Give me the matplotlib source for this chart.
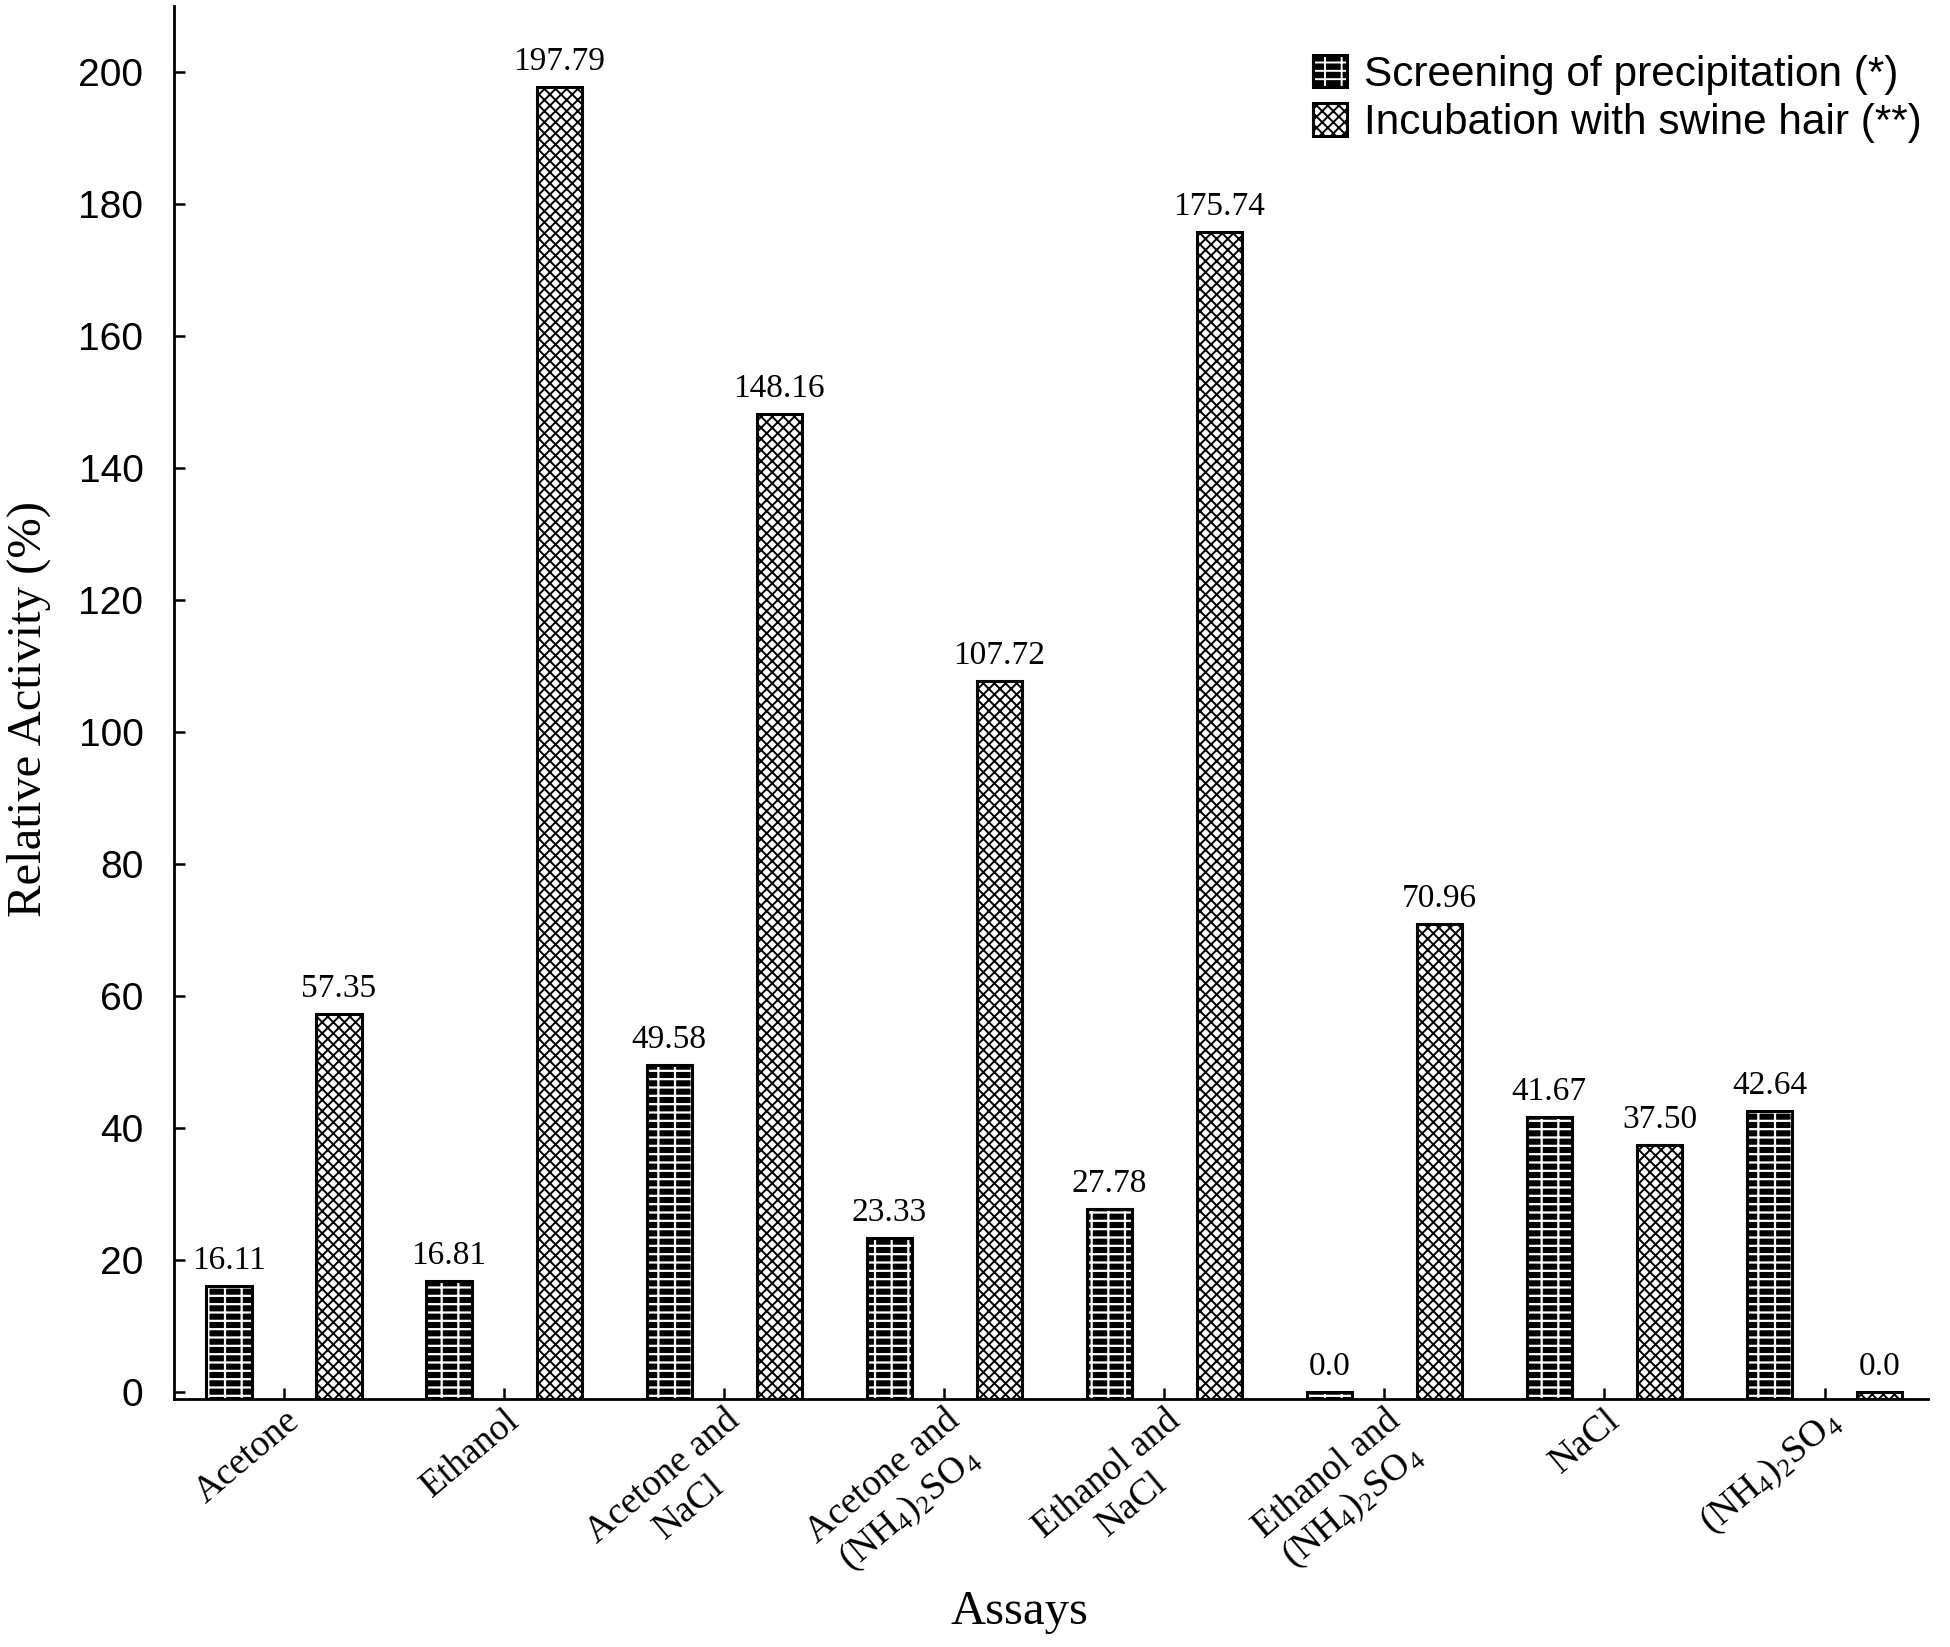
import matplotlib
matplotlib.use('Agg')
import matplotlib.pyplot as plt
import numpy as np

assays = ['Acetone', 'Ethanol', 'Acetone and\nNaCl',
          'Acetone and\n(NH$_4$)$_2$SO$_4$', 'Ethanol and\nNaCl',
          'Ethanol and\n(NH$_4$)$_2$SO$_4$', 'NaCl', '(NH$_4$)$_2$SO$_4$']
screening = [16.11, 16.81, 49.58, 23.33, 27.78, 0.0, 41.67, 42.64]
incubation = [57.35, 197.79, 148.16, 107.72, 175.74, 70.96, 37.50, 0.0]
screening_txt = ['16.11', '16.81', '49.58', '23.33', '27.78', '0.0', '41.67', '42.64']
incubation_txt = ['57.35', '197.79', '148.16', '107.72', '175.74', '70.96', '37.50', '0.0']
yticks = list(range(0, 201, 20))

plt.rcParams['mathtext.fontset'] = 'custom'
plt.rcParams['mathtext.rm'] = 'Liberation Serif'
plt.rcParams['mathtext.it'] = 'Liberation Serif:italic'
plt.rcParams['hatch.linewidth'] = 1.4

SERIF = 'Liberation Serif'
SANS = 'Liberation Sans'
Y0 = -1.0  # bars start at the floor of the axis

fig = plt.figure(figsize=(19.5, 16.47), dpi=100)
ax = fig.add_axes([0.0892, 0.1506, 0.8995, 0.8458])

x = np.arange(len(assays))
w = 0.205
h1 = np.array(screening) - Y0
h2 = np.array(incubation) - Y0

# brick look: black face, white mortar lines, black outline on top
b1 = ax.bar(x - 0.25, h1, w, bottom=Y0, color='black', edgecolor='white',
            linewidth=0, hatch='--|', zorder=2)
for p in b1:
    if hasattr(p, 'set_hatch_linewidth'):
        p.set_hatch_linewidth(1.6)
b1o = ax.bar(x - 0.25, h1, w, bottom=Y0, fill=False, edgecolor='black',
             linewidth=2.2, zorder=3)

b2 = ax.bar(x + 0.25, h2, w, bottom=Y0, color='white', edgecolor='black',
            linewidth=2.2, hatch='xxx', zorder=2)

for xi, v, t in zip(x - 0.25, screening, screening_txt):
    ax.text(xi, v + 1.5, t, ha='center', va='bottom', fontsize=24, family=SERIF)
for xi, v, t in zip(x + 0.25, incubation, incubation_txt):
    ax.text(xi, v + 1.5, t, ha='center', va='bottom', fontsize=24, family=SERIF)

ax.set_xlim(-0.5, 7.47)
ax.set_ylim(Y0, 210)
ax.set_yticks(yticks)
ax.set_yticklabels([str(t) for t in yticks], fontsize=28, family=SANS)
ax.set_xticks(x)
ax.set_xticklabels(assays, rotation=40, ha='right', rotation_mode='anchor',
                   multialignment='center', fontsize=27, family=SERIF)
ax.tick_params(axis='both', direction='in', length=8, width=1.8)
ax.tick_params(axis='y', pad=22)
ax.tick_params(axis='x', pad=3)

for s in ['top', 'right']:
    ax.spines[s].set_visible(False)
for s in ['left', 'bottom']:
    ax.spines[s].set_linewidth(2.0)

ax.set_ylabel('Relative Activity (%)', fontsize=35, family=SERIF)
ax.yaxis.set_label_coords(-0.07, 0.495)
ax.set_xlabel('Assays', fontsize=35, family=SERIF)
ax.xaxis.set_label_coords(0.482, -0.137)

leg = ax.legend([(b1, b1o), b2],
                ['Screening of precipitation (*)', 'Incubation with swine hair (**)'],
                loc='upper right', bbox_to_anchor=(1.006, 0.977), frameon=False,
                prop={'family': SANS, 'size': 30.5}, handlelength=0.8,
                handleheight=0.8, handletextpad=0.4, labelspacing=0.2,
                borderaxespad=0.0)

fig.savefig('out.png', dpi=100)
